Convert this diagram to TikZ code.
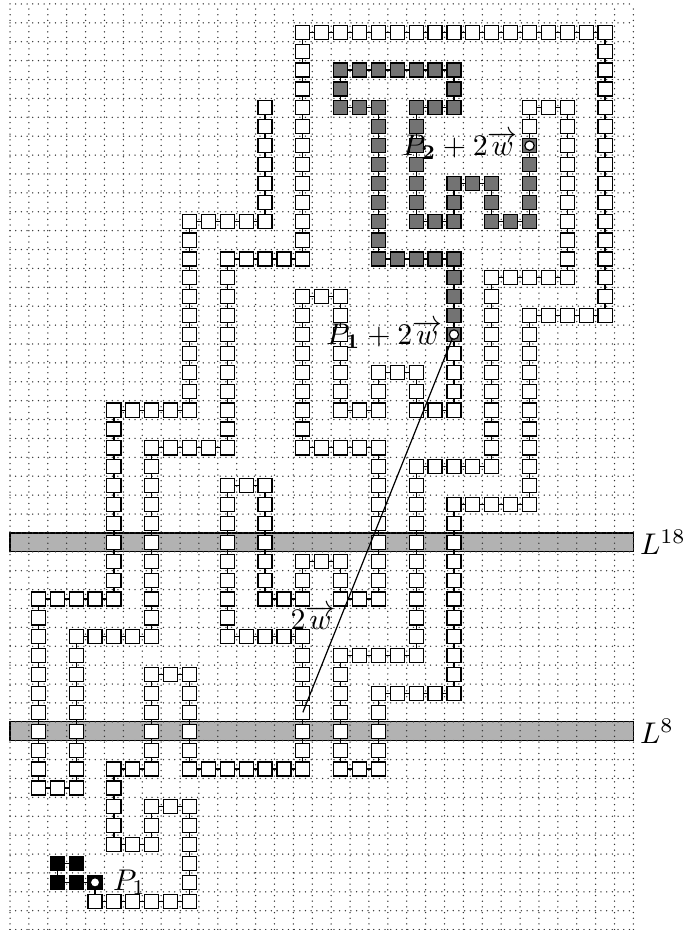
\documentclass[tikz,border=0pt]{standalone}
\usepackage{amsmath}
\usepackage{amssymb}
\usepackage{tikz}
\usetikzlibrary{positioning, calc}

% one square per cell between the corners, each joined to the one before
\newcommand{\walk}[2]{%
  \foreach \x/\y [remember=\x as \lx (initially -99),
                  remember=\y as \ly (initially -99)] in {#2}{
    \ifnum\lx=-99
      \node[#1] (q-\x-\y) at (\x,\y) {};
    \else
      \pgfmathtruncatemacro{\wlen}{abs(\x-(\lx))+abs(\y-(\ly))}
      \pgfmathtruncatemacro{\wsx}{sign(\x-(\lx))}
      \pgfmathtruncatemacro{\wsy}{sign(\y-(\ly))}
      \foreach \k in {1,...,\wlen}{
        \pgfmathtruncatemacro{\wcx}{\lx+\k*(\wsx)}
        \pgfmathtruncatemacro{\wcy}{\ly+\k*(\wsy)}
        \pgfmathtruncatemacro{\wbx}{\wcx-(\wsx)}
        \pgfmathtruncatemacro{\wby}{\wcy-(\wsy)}
        \node[#1] (q-\wcx-\wcy) at (\wcx,\wcy) {};
        \draw[joint] (q-\wbx-\wby) -- (q-\wcx-\wcy);
      }
    \fi
  }%
}

\begin{document}
\begin{tikzpicture}[x=0.222cm, y=0.222cm,
        sq/.style={draw=black, fill=white, minimum size=0.165cm, inner sep=0pt},
        dark/.style={sq, fill=black!55},
        blk/.style={sq, fill=black},
        joint/.style={black},
        band/.style={draw=black, fill=black!30},
        hole/.style={draw=black, fill=white},
        dots/.style={line width=0.5pt, black!80, line cap=round,
            dash pattern=on 0pt off 1.9pt}
    ]
        \useasboundingbox (-1.03,-2.52) rectangle (35.22,46.71);

        % Lines L^8 and L^18
        \draw[band] (-0.5,17.5) rectangle (32.5,18.5);
        \draw[band] (-0.5,7.5) rectangle (32.5,8.5);
        \coordinate (l18) at (32.5,18);
        \coordinate (l8) at (32.5,8);

        % Lattice
        \foreach \i in {0,...,33}
            \draw[dots] (\i-0.5,-2.5) -- (\i-0.5,46.5);
        \foreach \j in {0,...,49}
            \draw[dots] (-0.5,\j-2.5) -- (32.5,\j-2.5);

        % Start
        \walk{blk}{3/1, 2/1, 2/0, 4/0}

        % Walk up to P1 + 2w
        \walk{sq}{4/-1, 9/-1, 9/4, 7/4, 7/2, 5/2, 5/6, 7/6, 7/11, 9/11, 9/6,
            15/6, 15/13, 11/13, 11/21, 13/21, 13/15, 15/15, 15/17, 17/17, 17/15,
            19/15, 19/23, 15/23, 15/31, 17/31, 17/25, 19/25, 19/27, 21/27, 21/25,
            23/25, 23/28}

        % From P1 + 2w to P2 + 2w
        \walk{dark}{23/29, 23/33, 19/33, 19/41, 17/41, 17/43, 23/43, 23/41,
            21/41, 21/35, 23/35, 23/37, 25/37, 25/35, 27/35, 27/39}

        % Rest of the walk
        \walk{sq}{27/40, 27/41, 29/41, 29/32, 25/32, 25/22, 21/22, 21/12,
            17/12, 17/6, 19/6, 19/10, 23/10, 23/20, 27/20, 27/30, 31/30, 31/45,
            15/45, 15/33, 11/33, 11/23, 7/23, 7/13, 3/13, 3/5, 1/5, 1/15, 5/15,
            5/25, 9/25, 9/35, 13/35, 13/41}

        \draw[joint] (q-4-0) -- (q-4--1);
        \draw[joint] (q-23-28) -- (q-23-29);
        \draw[joint] (q-27-39) -- (q-27-40);

        % Vector 2w
        \draw (q-15-9.center) -- (q-23-29.center)
            node[pos=0.25, left, inner sep=1.5pt] {$2\overrightarrow{w}$};

        % Marked points
        \draw[hole] (q-4-0.center) circle (0.055cm);
        \draw[hole] (q-23-29.center) circle (0.055cm);
        \draw[hole] (q-27-39.center) circle (0.055cm);

        \node[right] (p1) at (q-4-0.east) {$P_1$};
        \node[left, inner sep=1.2pt] (p1w) at (q-23-29.west) {$P_{\mathbf{1}}+2\overrightarrow{w}$};
        \node[left, inner sep=1.2pt] (p2w) at (q-27-39.west) {$P_{\mathbf{2}}+2\overrightarrow{w}$};
        \node[right, inner sep=2pt] (n18) at (l18) {$L^{18}$};
        \node[right, inner sep=2pt] (n8) at (l8) {$L^{8}$};
    \end{tikzpicture}
\end{document}
